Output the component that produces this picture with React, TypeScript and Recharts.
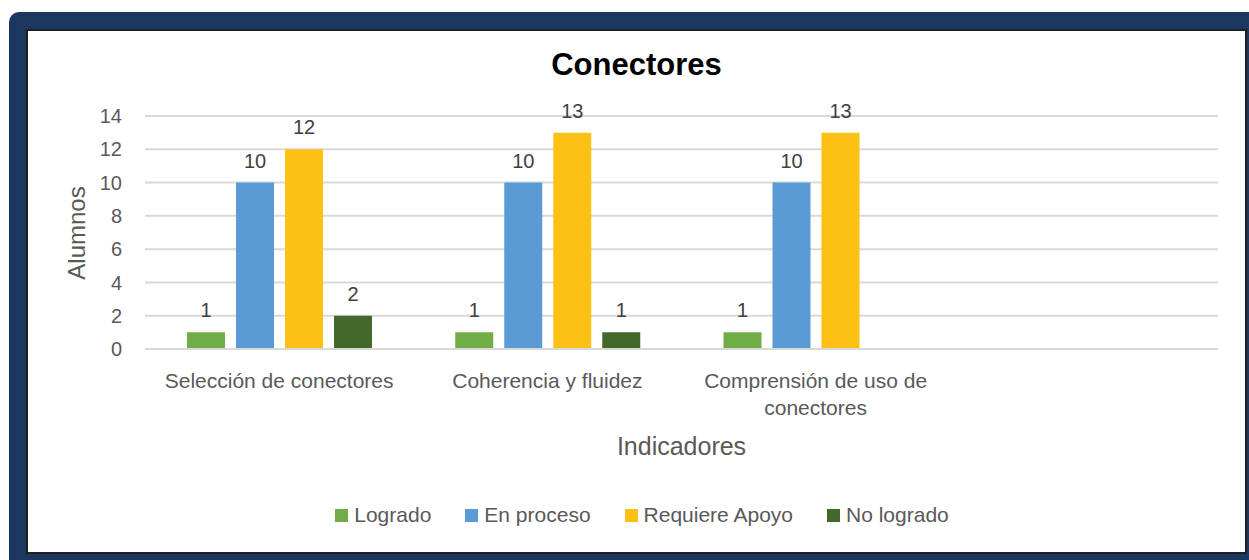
import React from 'react';
import { BarChart, Bar, XAxis, YAxis, CartesianGrid, LabelList, Legend, Text } from 'recharts';

const categories = ['Selección de conectores', 'Coherencia y fluidez', 'Comprensión de uso de conectores', ''];
const logrado = [1, 1, 1, null];
const enProceso = [10, 10, 10, null];
const requiereApoyo = [12, 13, 13, null];
const noLogrado = [2, 1, null, null];
const yTicks = [0, 2, 4, 6, 8, 10, 12, 14];

const seriesNames = ['Logrado', 'En proceso', 'Requiere Apoyo', 'No logrado'];
const seriesKeys = ['logrado', 'enProceso', 'requiereApoyo', 'noLogrado'];
const seriesColors = ['#70ad47', '#5b9bd5', '#fdc014', '#43682b'];

const data = categories.map((c, i) => ({
  name: c,
  logrado: logrado[i],
  enProceso: enProceso[i],
  requiereApoyo: requiereApoyo[i],
  noLogrado: noLogrado[i],
}));

const FONT = '"Liberation Sans", Arial, sans-serif';

const CategoryTick = (props: any) => {
  const { x, y, payload } = props;
  return (
    <Text
      x={x}
      y={y}
      width={250}
      textAnchor="middle"
      verticalAnchor="start"
      lineHeight={27}
      style={{ fontSize: 21, fontFamily: FONT }}
      fill="#595959"
    >
      {payload.value}
    </Text>
  );
};

const LegendContent = () => (
  <div style={{ display: 'flex', justifyContent: 'center', alignItems: 'center', fontFamily: FONT, fontSize: 21, color: '#595959', height: 24 }}>
    {seriesNames.map((n, i) => (
      <div key={n} style={{ display: 'flex', alignItems: 'center', marginLeft: i === 0 ? 0 : 34 }}>
        <span style={{ display: 'inline-block', width: 13, height: 13, background: seriesColors[i], marginRight: 6 }} />
        <span>{n}</span>
      </div>
    ))}
  </div>
);

export default function App() {
  return (
    <div style={{ position: 'absolute', left: 0, top: 0, width: 1249, height: 560, overflow: 'hidden', background: '#ffffff' }}>
      <div style={{ position: 'absolute', left: 9, top: 12, width: 1260, height: 570, background: '#1b365f', borderTopLeftRadius: 10 }} />
      <div style={{ position: 'absolute', left: 26, top: 29, width: 1221, height: 525, background: '#ffffff', border: '2px solid #1f1f1f', boxSizing: 'border-box' }} />
      <div style={{ position: 'absolute', left: 26, top: 47, width: 1221, textAlign: 'center', fontFamily: FONT, fontWeight: 'bold', fontSize: 31, color: '#000' }}>
        Conectores
      </div>
      <div style={{ position: 'absolute', left: 77, top: 233, transform: 'translate(-50%, -50%) rotate(-90deg)', fontFamily: FONT, fontSize: 24, color: '#595959', whiteSpace: 'nowrap' }}>
        Alumnos
      </div>
      <div style={{ position: 'absolute', left: 145, width: 1073, top: 432, textAlign: 'center', fontFamily: FONT, fontSize: 25, color: '#595959' }}>
        Indicadores
      </div>
      <div style={{ position: 'absolute', left: 0, top: 0 }}>
        <BarChart
          width={1249}
          height={560}
          data={data}
          margin={{ top: 116, right: 31, left: 0, bottom: 127 }}
          barCategoryGap={42}
          barGap={11}
        >
          <CartesianGrid vertical={false} stroke="#d9d9d9" strokeWidth={2} />
          <XAxis
            dataKey="name"
            height={60}
            axisLine={{ stroke: '#d9d9d9', strokeWidth: 2 }}
            tickLine={false}
            tickMargin={18}
            interval={0}
            tick={<CategoryTick />}
          />
          <YAxis
            width={145}
            domain={[0, 14]}
            ticks={yTicks}
            axisLine={false}
            tickLine={false}
            tickMargin={17}
            tick={{ fontSize: 20, fill: '#595959', fontFamily: FONT }}
          />
          <Legend
            content={<LegendContent />}
            wrapperStyle={{ position: 'absolute', top: 503, left: 0, width: 1284, height: 24, bottom: 'auto' }}
          />
          {seriesKeys.map((k, i) => (
            <Bar key={k} dataKey={k} name={seriesNames[i]} fill={seriesColors[i]} isAnimationActive={false}>
              <LabelList dataKey={k} position="top" offset={15} style={{ fontSize: 20, fill: '#404040', fontFamily: FONT }} />
            </Bar>
          ))}
        </BarChart>
      </div>
    </div>
  );
}
